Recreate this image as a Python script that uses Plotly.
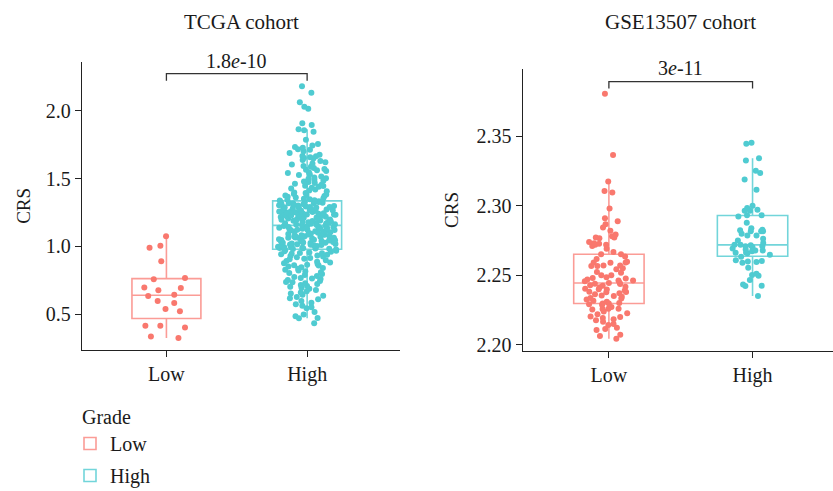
import plotly.graph_objects as go

groups = ["Low", "High"]

tcga_low = [1.074, 1.005, 0.990, 0.890, 0.756, 0.766, 0.695, 0.675, 0.692, 0.633,
            0.643, 0.596, 0.581, 0.537, 0.520, 0.414, 0.400, 0.414, 0.333, 0.323]

tcga_high = [
    2.183, 2.135, 2.064, 2.032, 2.017, 1.909, 1.897, 1.865, 1.857, 1.847,
    1.756, 1.734, 1.729, 1.718, 1.714, 1.702, 1.788, 1.745,
    1.667, 1.665, 1.658, 1.652, 1.648, 1.638, 1.621, 1.612, 1.689, 1.604, 1.676, 1.631,
    1.594, 1.587, 1.579, 1.571, 1.562, 1.556, 1.548, 1.541, 1.533, 1.527, 1.516, 1.509, 1.502, 1.566,
    1.497, 1.491, 1.484, 1.476, 1.468, 1.462, 1.455, 1.448, 1.441, 1.433, 1.427, 1.419, 1.412, 1.406, 1.478, 1.445,
    1.398, 1.394, 1.387, 1.382, 1.376, 1.371, 1.366, 1.361, 1.356, 1.352, 1.348, 1.344, 1.341, 1.338, 1.379,
    1.333, 1.331, 1.328, 1.325, 1.322, 1.319, 1.316, 1.313, 1.310, 1.307, 1.304, 1.301, 1.318, 1.327,
    1.298, 1.295, 1.291, 1.290, 1.286, 1.283, 1.281, 1.277, 1.276, 1.272, 1.268, 1.266, 1.263, 1.259,
    1.258, 1.254, 1.251, 1.249, 1.244, 1.243, 1.239, 1.236, 1.235, 1.231, 1.227, 1.226, 1.222, 1.219,
    1.217, 1.213, 1.211, 1.206, 1.205, 1.202, 1.288, 1.262, 1.241, 1.229, 1.274, 1.253, 1.215, 1.233,
    1.198, 1.196, 1.193, 1.189, 1.187, 1.184, 1.181, 1.178, 1.176, 1.173, 1.171, 1.168, 1.166, 1.163,
    1.161, 1.159, 1.157, 1.191, 1.179,
    1.153, 1.151, 1.148, 1.146, 1.142, 1.141, 1.137, 1.134, 1.132, 1.129, 1.127, 1.123, 1.121, 1.118,
    1.116, 1.112, 1.109, 1.107, 1.104, 1.101, 1.138, 1.125,
    1.098, 1.096, 1.093, 1.091, 1.087, 1.086, 1.082, 1.079, 1.077, 1.074, 1.071, 1.069, 1.066, 1.063,
    1.061, 1.057, 1.055, 1.052, 1.049, 1.047, 1.043, 1.041, 1.038, 1.036, 1.032, 1.029, 1.027, 1.024,
    1.021, 1.018, 1.016, 1.013, 1.011, 1.007, 1.004, 1.002, 1.088, 1.064, 1.045, 1.026, 1.072, 1.009,
    0.998, 0.996, 0.993, 0.991, 0.989, 0.987, 0.985, 0.984, 0.982, 0.981, 0.994,
    0.976, 0.972, 0.968, 0.963, 0.959, 0.955, 0.951, 0.946, 0.942, 0.937, 0.933, 0.928, 0.924, 0.919,
    0.914, 0.909, 0.905, 0.948,
    0.897, 0.892, 0.886, 0.881, 0.874, 0.869, 0.863, 0.858, 0.851, 0.846, 0.839, 0.834, 0.827, 0.821,
    0.816, 0.808, 0.803, 0.861,
    0.796, 0.788, 0.781, 0.773, 0.766, 0.758, 0.751, 0.743, 0.736, 0.728, 0.721, 0.714, 0.706, 0.701,
    0.762, 0.734,
    0.694, 0.686, 0.677, 0.668, 0.659, 0.651, 0.642, 0.634, 0.625, 0.617, 0.609,
    0.596, 0.584, 0.572, 0.561, 0.549, 0.542, 0.514,
    0.496, 0.483, 0.471, 0.468, 0.431,
]

gse_low = [
    2.3803, 2.3363, 2.3173, 2.3105, 2.3094, 2.2980, 2.2910, 2.2889, 2.2867, 2.2843,
    2.2820, 2.2781, 2.2793, 2.2766, 2.2771, 2.2771, 2.2730, 2.2740, 2.2719, 2.2719,
    2.2726, 2.2711, 2.2690, 2.2668, 2.2651, 2.2651, 2.2636, 2.2618, 2.2598, 2.2590,
    2.2567, 2.2570, 2.2567, 2.2593, 2.2570, 2.2593, 2.2550, 2.2543, 2.2524, 2.2519,
    2.2500, 2.2500, 2.2470, 2.2447, 2.2439, 2.2457, 2.2463, 2.2463, 2.2481, 2.2486,
    2.2477, 2.2418, 2.2398, 2.2382, 2.2403, 2.2379, 2.2381, 2.2425, 2.2401, 2.2346,
    2.2351, 2.2333, 2.2326, 2.2372, 2.2355, 2.2317, 2.2302, 2.2310, 2.2298, 2.2298,
    2.2293, 2.2254, 2.2259, 2.2261, 2.2261, 2.2240, 2.2201, 2.2194, 2.2177, 2.2204,
    2.2220, 2.2167, 2.2144, 2.2151, 2.2115, 2.2124, 2.2107, 2.2074, 2.2064, 2.2045,
    2.2445, 2.2437, 2.2428, 2.2415, 2.2392, 2.2365, 2.2338, 2.2288, 2.2272, 2.2228,
    2.2185,
]

gse_high = [
    2.3444, 2.3452, 2.3325, 2.3340, 2.3235, 2.3250, 2.3188, 2.3115, 2.2983, 2.2964,
    2.2932, 2.3000, 2.2971, 2.2932, 2.2964, 2.2923, 2.2877, 2.2838, 2.2817, 2.2824,
    2.2827, 2.2817, 2.2817, 2.2798, 2.2786, 2.2786, 2.2762, 2.2750, 2.2733, 2.2716,
    2.2719, 2.2709, 2.2719, 2.2701, 2.2692, 2.2709, 2.2672, 2.2658, 2.2685, 2.2678,
    2.2678, 2.2663, 2.2647, 2.2662, 2.2633, 2.2609, 2.2600, 2.2595, 2.2590, 2.2603,
    2.2555, 2.2512, 2.2497, 2.2502, 2.2466, 2.2423, 2.2425, 2.2435, 2.2351,
]

panel_titles = ["TCGA cohort", "GSE13507 cohort"]
p_labels = ["1.8<i>e</i>-10", "3<i>e</i>-11"]
tcga_ticks = [0.5, 1.0, 1.5, 2.0]
gse_ticks = [2.20, 2.25, 2.30, 2.35]

# ---------------- styling ----------------
FONT = "Liberation Serif"
TXT = "#1a1a1a"
point_col = {"Low": "#F9786E", "High": "#4FCBD1"}
line_col = {"Low": "#FB9C96", "High": "#72D5DA"}

W, H = 833, 491

fig = go.Figure()

panels = [
    ("x", "y", {"Low": tcga_low, "High": tcga_high}, True, 0.85),
    ("x2", "y2", {"Low": gse_low, "High": gse_high}, False, 0.74),
]

for xa, ya, data, show, jit in panels:
    for g in groups:
        fig.add_trace(go.Box(
            x=[g] * len(data[g]), y=data[g], name=g,
            xaxis=xa, yaxis=ya,
            legendgroup=g, showlegend=show,
            boxpoints="all", jitter=jit, pointpos=0,
            whiskerwidth=0,
            fillcolor="rgba(255,255,255,0)",
            line=dict(color=line_col[g], width=1.6),
            marker=dict(color=point_col[g], size=6, line=dict(width=0)),
            hoverinfo="y",
        ))

# significance brackets
bracket_levels = [(2.276, 2.224), (2.389, 2.3842)]
label_px = [61, 68]   # vertical pixel position of the p-value labels
for (xa, ya, data, show, jit), (top, foot), lab, lpx in zip(
        panels, bracket_levels, p_labels, label_px):
    fig.add_trace(go.Scatter(
        x=[groups[0], groups[0], groups[1], groups[1]],
        y=[foot, top, top, foot],
        mode="lines", line=dict(color="#333333", width=1.3),
        xaxis=xa, yaxis=ya, showlegend=False, hoverinfo="skip",
    ))
    fig.add_annotation(
        x=0.5, y=1 - lpx / H, xref=xa, yref="paper", text=lab, showarrow=False,
        font=dict(family=FONT, size=20, color=TXT), yanchor="middle",
    )

# panel titles
for t, cx in zip(panel_titles, [241, 680]):
    fig.add_annotation(
        x=cx / W, y=1 - 22 / H, xref="paper", yref="paper", text=t,
        showarrow=False, font=dict(family=FONT, size=21, color=TXT),
        xanchor="center", yanchor="middle",
    )

axis_common = dict(
    showline=True, linecolor="#222222", linewidth=1.3,
    ticks="outside", ticklen=6, tickwidth=1.2, tickcolor="#222222",
    showgrid=False, zeroline=False,
    tickfont=dict(family=FONT, size=20, color=TXT),
)

fig.update_layout(
    width=W, height=H,
    margin=dict(l=0, r=0, t=0, b=0, autoexpand=False),
    paper_bgcolor="white", plot_bgcolor="white",
    boxmode="overlay",
    font=dict(family=FONT, size=20, color=TXT),
    xaxis=dict(domain=[82 / W, 400 / W], range=[-0.6, 1.66], type="category",
               categoryorder="array", categoryarray=groups, anchor="y", **axis_common),
    yaxis=dict(domain=[1 - 350 / H, 1 - 61.7 / H], range=[0.234, 2.364],
               tickvals=tcga_ticks, tickformat=".1f", anchor="x",
               title=dict(text="CRS", standoff=10,
                          font=dict(family=FONT, size=19, color=TXT)),
               **axis_common),
    xaxis2=dict(domain=[522.7 / W, 1.0], range=[-0.6, 1.56], type="category",
                categoryorder="array", categoryarray=groups, anchor="y2", **axis_common),
    yaxis2=dict(domain=[1 - 350.7 / H, 1 - 69.3 / H], range=[2.1959, 2.3979],
                tickvals=gse_ticks, tickformat=".2f", anchor="x2",
                title=dict(text="CRS", standoff=12,
                           font=dict(family=FONT, size=19, color=TXT)),
                **axis_common),
    legend=dict(
        title=dict(text="Grade", font=dict(family=FONT, size=20, color=TXT)),
        font=dict(family=FONT, size=20, color=TXT),
        x=80 / W, xanchor="left", y=1 - 398 / H, yanchor="top",
        bgcolor="rgba(0,0,0,0)", traceorder="grouped",
        tracegroupgap=3, indentation=-10,
    ),
)

fig.write_html("out.html")
